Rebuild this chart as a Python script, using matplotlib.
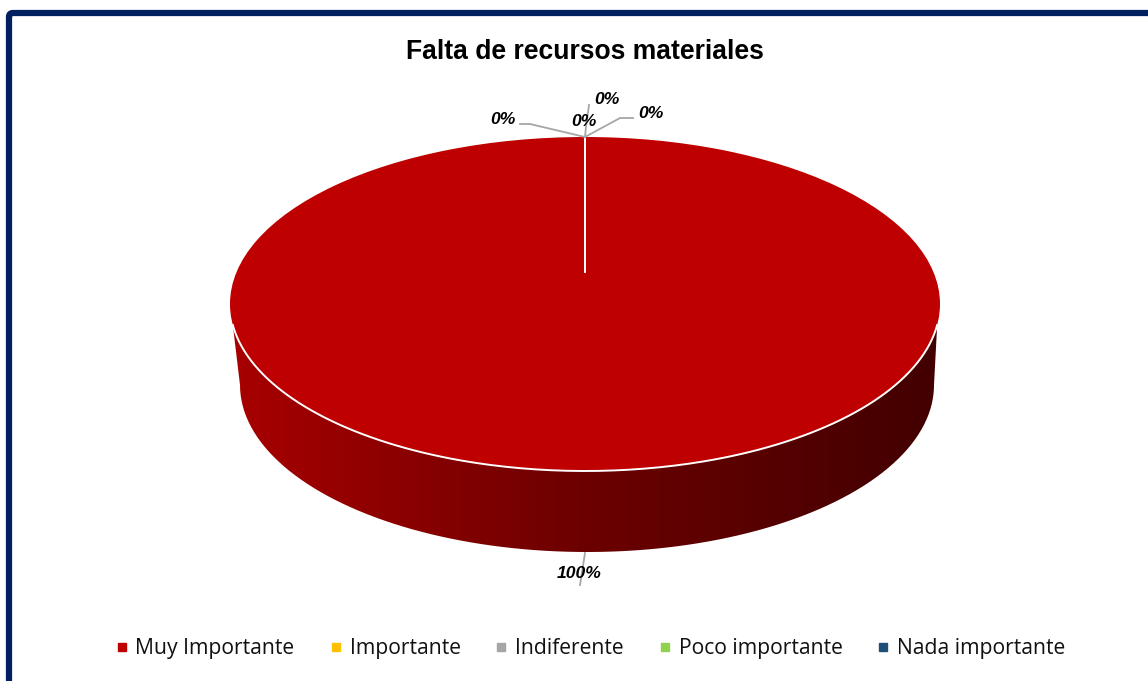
import matplotlib
matplotlib.use("Agg")
import matplotlib.pyplot as plt
import numpy as np
from matplotlib.colors import LinearSegmentedColormap
from matplotlib.lines import Line2D
from matplotlib.patches import FancyBboxPatch, PathPatch
from matplotlib.path import Path
from matplotlib.transforms import Affine2D

# chart data
title = "Falta de recursos materiales"
categories = ["Muy Importante", "Importante", "Indiferente", "Poco importante", "Nada importante"]
values = [100, 0, 0, 0, 0]
colors = ["#BE0000", "#FFC000", "#A5A5A5", "#92D050", "#1F4E79"]

# layout, all in reference pixels
W, H = 1148, 681
cx, cy, rx, ry = 585, 304, 355, 167
bx, by, brx, bry = 587, 385, 347, 167
apex_y = 272
label_xy = [(579, 573), (503, 120), (584, 122), (607, 100), (651, 114)]
leaders = [
    [(585, 553), (580, 585)],
    [(585, 137), (530, 124), (520, 124)],
    [(585, 137), (586, 127), (589, 105)],
    [(585, 137), (620, 118), (633, 118)],
]
legend_marker_x = [122, 336, 501, 665, 883]
legend_text_x = [135, 350, 515, 679, 897]
legend_y = 647
legend_baseline = 654

fig = plt.figure(figsize=(W / 100, H / 100), dpi=100)
ax = fig.add_axes([0, 0, 1, 1])

# frame, runs off the right and bottom of the picture
ax.add_patch(FancyBboxPatch((9, 13), 1300, 800, boxstyle="round,pad=0,rounding_size=4",
                            fc="white", ec="#002060", lw=4.5, zorder=0))

# side of the disc: lower rim of the top ellipse down to the bottom ellipse
t = np.linspace(np.arcsin(21 / ry), np.pi - np.arcsin(21 / ry), 200)
upper = np.column_stack([cx + rx * np.cos(t), cy + ry * np.sin(t)])
s = np.linspace(np.pi, 0, 200)
lower = np.column_stack([bx + brx * np.cos(s), by + bry * np.sin(s)])
side_path = Path(np.vstack([upper, lower, upper[:1]]))
side_patch = PathPatch(side_path, fc="none", ec="none", transform=ax.transData)
ax.add_patch(side_patch)
side_cmap = LinearSegmentedColormap.from_list("side", ["#A80000", "#6C0000", "#420000"])
grad = ax.imshow(np.linspace(0, 1, 256)[None, :], cmap=side_cmap, aspect="auto",
                 extent=(230, 940, 560, 300), zorder=1)
grad.set_clip_path(side_patch)

# top of the disc
wedges, _ = ax.pie(values, colors=colors, startangle=90, counterclock=False)
squash = Affine2D().scale(rx, -ry).translate(cx, cy) + ax.transData
for w in wedges:
    w.set_transform(squash)
    w.set_zorder(2)
ax.plot(upper[:, 0], upper[:, 1], color="white", lw=1.4, zorder=3)
ax.plot([cx, cx], [cy - ry, apex_y], color="white", lw=1.4, zorder=3)

# leaders and data labels
for pts in leaders:
    xs, ys = zip(*pts)
    ax.plot(xs, ys, color="#A6A6A6", lw=1.3, zorder=4)
for v, (x, y) in zip(values, label_xy):
    ax.text(x, y, f"{v}%", ha="center", va="center", fontsize=12.6, fontweight="bold",
            fontstyle="italic", family="Liberation Sans", color="black", zorder=5)

ax.text(585, 52, title, ha="center", va="center", fontsize=19.1, fontweight="bold",
        family="Liberation Sans", color="black", zorder=5)

# legend placed by hand to keep the reference spacing
for name, color, mx, tx in zip(categories, colors, legend_marker_x, legend_text_x):
    ax.add_line(Line2D([mx], [legend_y], marker="s", ms=5.6, color=color, ls="none", zorder=5))
    ax.text(tx, legend_baseline, name, ha="left", va="baseline", fontsize=15.2, family="Open Sans",
            color="#111111", zorder=5)

ax.set_aspect("auto")
ax.set_xlim(0, W)
ax.set_ylim(H, 0)
ax.axis("off")

fig.savefig("out.png", dpi=100)
